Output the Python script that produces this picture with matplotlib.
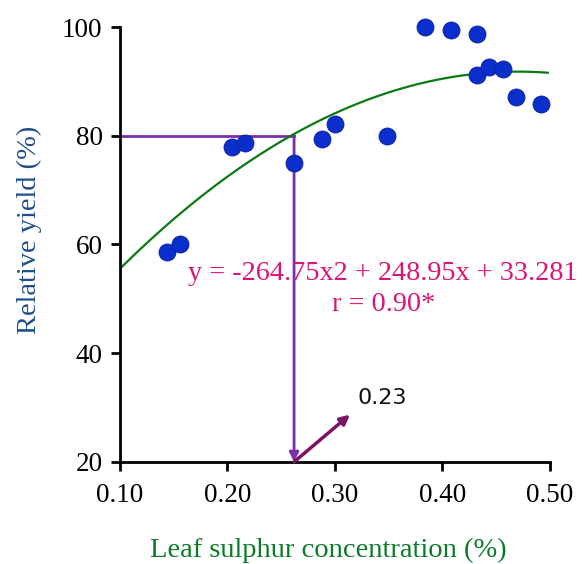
import numpy as np
import matplotlib.pyplot as plt

# leaf S concentration (%) vs relative yield (%)
leaf_s = [0.144, 0.156, 0.204, 0.216, 0.262, 0.288, 0.300, 0.348,
          0.384, 0.408, 0.432, 0.432, 0.443, 0.456, 0.468, 0.492]
rel_yield = [58.6, 60.1, 77.9, 78.7, 75.0, 79.4, 82.2, 80.0,
             100.0, 99.4, 98.7, 91.2, 92.6, 92.3, 87.1, 85.8]

# quadratic fit y = a x^2 + b x + c
coef = [-264.75, 248.95, 33.281]
critical_x = 0.262
critical_y = 80

xticks = [0.10, 0.20, 0.30, 0.40, 0.50]
yticks = [20, 40, 60, 80, 100]

plt.rcParams["font.family"] = ["Liberation Serif", "DejaVu Serif"]

fig = plt.figure(figsize=(5.82, 5.64), dpi=100)
ax = fig.add_axes([0.206, 0.181, 0.739, 0.771])

xfit = np.linspace(0.10, 0.498, 200)
yfit = np.polyval(coef, xfit)
ax.plot(xfit, yfit, color="#0a7a14", lw=1.6, zorder=2)

ax.scatter(leaf_s, rel_yield, s=150, color="#0a2ecc", edgecolors="#0a1f99",
           linewidths=0.6, zorder=3, clip_on=False)

# critical level lines
purple = "#7a30a8"
ax.plot([0.10, critical_x], [critical_y, critical_y], color=purple, lw=2, zorder=1)
ax.annotate("", xy=(critical_x, 20), xytext=(critical_x, critical_y),
            arrowprops=dict(arrowstyle="-|>", color=purple, lw=2,
                            mutation_scale=14, shrinkA=0, shrinkB=0), zorder=1)
ax.annotate("", xy=(0.314, 28.7), xytext=(critical_x, 20),
            arrowprops=dict(arrowstyle="-|>", color="#7a1566", lw=2.5,
                            mutation_scale=14, shrinkA=0, shrinkB=0))
ax.text(0.321, 31.8, "0.23", fontsize=16, family=["DejaVu Sans"], va="center",
        ha="left", color="#111111")

eq_color = "#dc1474"
ax.text(0.3442, 54.6, "y = -264.75x2 + 248.95x + 33.281", fontsize=20.3,
        color=eq_color, ha="center", va="center")
ax.text(0.3456, 48.9, "r = 0.90*", fontsize=20.3, color=eq_color,
        ha="center", va="center")

ax.set_xlim(0.10, 0.50)
ax.set_ylim(20, 100)
ax.set_xticks(xticks)
ax.set_xticklabels([f"{t:.2f}" for t in xticks])
ax.set_yticks(yticks)
ax.tick_params(direction="out", length=6.5, width=2, labelsize=19.5, pad=6)
ax.tick_params(axis="x", pad=9)
for side in ["top", "right"]:
    ax.spines[side].set_visible(False)
for side in ["left", "bottom"]:
    ax.spines[side].set_linewidth(2)

ax.set_xlabel("Leaf sulphur concentration (%)", fontsize=20.5, color="#0a7a2a",
              va="center")
ax.set_ylabel("Relative yield (%)", fontsize=20.5, color="#1f4e8c", va="center")
ax.xaxis.set_label_coords(0.484, -0.203)
ax.yaxis.set_label_coords(-0.210, 0.533)

fig.savefig("out.png", dpi=100)
